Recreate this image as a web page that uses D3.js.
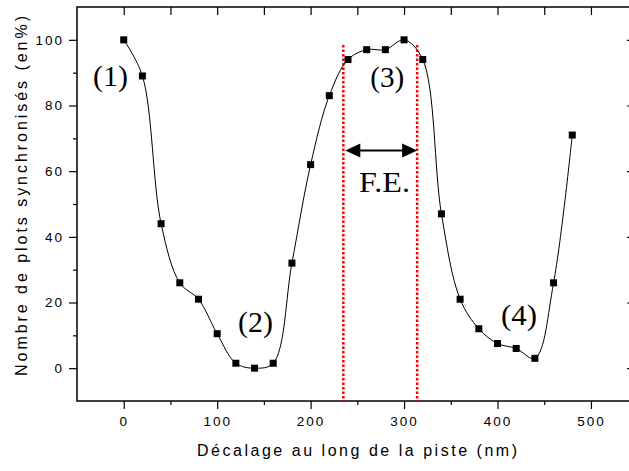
<!DOCTYPE html>
<html>
<head>
<meta charset="utf-8">
<script src="https://cdn.jsdelivr.net/npm/d3@7"></script>
<style>
  body { margin: 0; background: #fff; }
  svg { display: block; }
  .tick text { font-family: "Liberation Sans", Arial, sans-serif; font-size: 13.5px; letter-spacing: 2px; fill: #000; }
  .domain { display: none; }
</style>
</head>
<body>
<svg width="629" height="471"></svg>
<script>
// data
var decalage = [0, 20, 40, 60, 80, 100, 120, 140, 160, 180, 200, 220, 240, 260, 280, 300, 320, 340, 360, 380, 400, 420, 440, 460, 480];
var synchro  = [100, 89, 44, 26, 21, 10.5, 1.5, 0, 1.5, 32, 62, 83, 94, 97, 97, 100, 94, 47, 21, 12, 7.5, 6, 3, 26, 71];

var xMajor = [0, 100, 200, 300, 400, 500];
var xMinor = [50, 150, 250, 350, 450];
var yMajor = [0, 20, 40, 60, 80, 100];
var yMinor = [10, 30, 50, 70, 90];

// zone F.E. bounds and annotation labels
var feBounds = [235, 314];
var feArrowY = 66.3;
var labels = ["(1)", "(2)", "(3)", "(4)", "F.E."];
var labelX = [-14, 141, 282, 423, 279];
var labelY = [86, 11, 85.6, 13, 53.7];
var labelLen = [35, 35, 34, 36, 51];

var svg = d3.select("svg");
var mLeft = 77, mRight = 633, mTop = 7, mBottom = 401;

var x = d3.scaleLinear().domain([-50, 545]).range([mLeft, mRight]);
var y = d3.scaleLinear().domain([-10, 110]).range([mBottom, mTop]);

// frame
svg.append("rect")
    .attr("x", mLeft).attr("y", mTop)
    .attr("width", mRight - mLeft).attr("height", mBottom - mTop)
    .attr("fill", "none").attr("stroke", "#000").attr("stroke-width", 1.5);

// axes
svg.append("g").attr("transform", "translate(0," + mBottom + ")")
    .call(d3.axisBottom(x).tickValues(xMajor).tickSize(8).tickPadding(7));
svg.append("g").attr("transform", "translate(0," + mBottom + ")")
    .call(d3.axisBottom(x).tickValues(xMinor).tickSize(4).tickFormat(""));
svg.append("g").attr("transform", "translate(0," + mTop + ")")
    .call(d3.axisTop(x).tickValues(xMajor.concat(xMinor)).tickSize(-8).tickFormat(""));

svg.append("g").attr("transform", "translate(" + mLeft + ",0)")
    .call(d3.axisLeft(y).tickValues(yMajor).tickSize(8).tickPadding(5));
svg.append("g").attr("transform", "translate(" + mLeft + ",0)")
    .call(d3.axisLeft(y).tickValues(yMinor).tickSize(4).tickFormat(""));
svg.append("g").attr("transform", "translate(" + mRight + ",0)")
    .call(d3.axisRight(y).tickValues(yMajor).tickSize(-6).tickFormat(""));

svg.selectAll(".tick line").attr("stroke", "#000").attr("stroke-width", 1.2);

// axis titles
svg.append("text")
    .attr("x", 357).attr("y", 456)
    .attr("text-anchor", "middle")
    .attr("textLength", 320).attr("lengthAdjust", "spacing")
    .style("font-family", "Liberation Sans, Arial, sans-serif")
    .style("font-size", "16px")
    .text("Décalage au long de la piste (nm)");

svg.append("text")
    .attr("transform", "translate(27,196) rotate(-90)")
    .attr("text-anchor", "middle")
    .attr("textLength", 360).attr("lengthAdjust", "spacing")
    .style("font-family", "Liberation Sans, Arial, sans-serif")
    .style("font-size", "16px")
    .text("Nombre de plots synchronisés (en%)");

// red dotted limits
svg.selectAll(".fe").data(feBounds).enter().append("line")
    .attr("x1", d => x(d)).attr("x2", d => x(d))
    .attr("y1", y(98.4)).attr("y2", mBottom)
    .attr("stroke", "#f00").attr("stroke-width", 2.5)
    .attr("stroke-dasharray", "2.5,2");

// fitted curve
var pts = decalage.map((d, i) => [d, synchro[i]]);
var line = d3.line()
    .x(d => x(d[0])).y(d => y(d[1]))
    .curve(d3.curveCatmullRom.alpha(0.5));
svg.append("path").datum(pts)
    .attr("d", line)
    .attr("fill", "none").attr("stroke", "#000").attr("stroke-width", 1);

// square markers
svg.selectAll(".pt").data(pts).enter().append("rect")
    .attr("x", d => x(d[0]) - 3.5).attr("y", d => y(d[1]) - 3.5)
    .attr("width", 7).attr("height", 7)
    .attr("fill", "#000");

// double arrow
var ax1 = x(feBounds[0]) + 2, ax2 = x(feBounds[1]), ay = y(feArrowY);
svg.append("line")
    .attr("x1", ax1 + 12).attr("x2", ax2 - 12)
    .attr("y1", ay).attr("y2", ay)
    .attr("stroke", "#000").attr("stroke-width", 2);
svg.append("path")
    .attr("d", "M" + ax1 + "," + ay + "L" + (ax1 + 15) + "," + (ay - 7) + "L" + (ax1 + 15) + "," + (ay + 7) + "Z")
    .attr("fill", "#000");
svg.append("path")
    .attr("d", "M" + ax2 + "," + ay + "L" + (ax2 - 15) + "," + (ay - 7) + "L" + (ax2 - 15) + "," + (ay + 7) + "Z")
    .attr("fill", "#000");

// annotation labels
svg.selectAll(".lbl").data(labels).enter().append("text")
    .attr("x", (d, i) => x(labelX[i]))
    .attr("y", (d, i) => y(labelY[i]))
    .attr("text-anchor", "middle")
    .attr("textLength", (d, i) => labelLen[i]).attr("lengthAdjust", "spacingAndGlyphs")
    .style("font-family", "Liberation Serif, Times New Roman, serif")
    .style("font-size", "29px")
    .text(d => d);
</script>
</body>
</html>
